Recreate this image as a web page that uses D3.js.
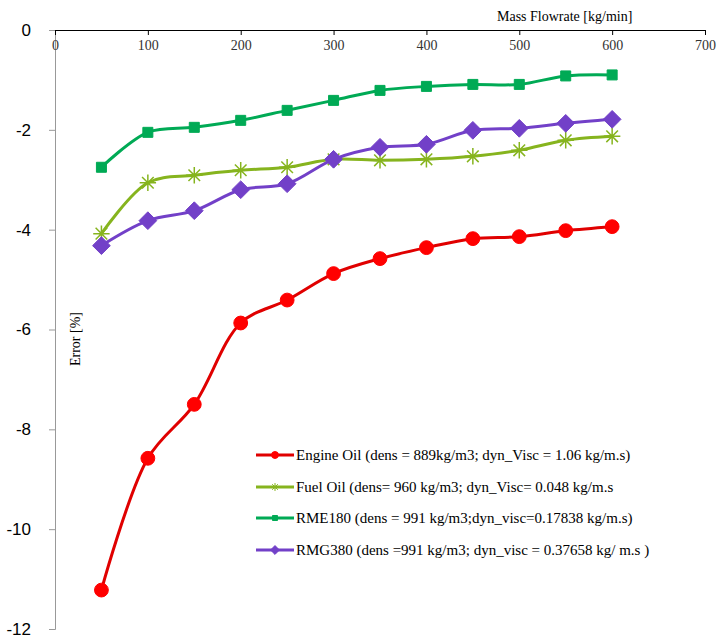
<!DOCTYPE html>
<html>
<head>
<meta charset="utf-8">
<script src="https://cdn.jsdelivr.net/npm/d3@7"></script>
<style>
  body { margin: 0; background: #fff; }
  svg text { font-family: "Liberation Serif", "Times New Roman", serif; }
  svg .y-axis text { font-family: "Liberation Sans", Arial, sans-serif; }
</style>
</head>
<body>
<svg width="718" height="639"></svg>
<script>
const flowrates = [50, 100, 150, 200, 250, 300, 350, 400, 450, 500, 550, 600];
const engineOil = [-11.22, -8.58, -7.5, -5.87, -5.41, -4.88, -4.58, -4.36, -4.18, -4.14, -4.02, -3.94];
const fuelOil = [-4.08, -3.06, -2.91, -2.81, -2.75, -2.59, -2.61, -2.59, -2.53, -2.41, -2.21, -2.13];
const rme180 = [-2.75, -2.05, -1.95, -1.81, -1.61, -1.41, -1.21, -1.13, -1.09, -1.09, -0.92, -0.9];
const rmg380 = [-4.32, -3.82, -3.62, -3.2, -3.08, -2.59, -2.35, -2.29, -2.01, -1.97, -1.87, -1.79];
const seriesNames = [
    'Engine Oil (dens = 889kg/m3; dyn_Visc = 1.06 kg/m.s)',
    'Fuel Oil (dens= 960 kg/m3; dyn_Visc= 0.048 kg/m.s',
    'RME180 (dens = 991 kg/m3;dyn_visc=0.17838 kg/m.s)',
    'RMG380 (dens =991 kg/m3; dyn_visc = 0.37658 kg/ m.s )'
];
const xTicks = [0, 100, 200, 300, 400, 500, 600, 700];
const yTicks = [0, -2, -4, -6, -8, -10, -12];

const svg = d3.select('svg');

const xScale = d3.scaleLinear().domain([0, 700]).range([55, 705]);
const yScale = d3.scaleLinear().domain([-12, 0]).range([629, 30]);

const series = [
    { name: seriesNames[0], values: engineOil, color: '#ff0000', stroke: '#e00000', marker: 'circle' },
    { name: seriesNames[1], values: fuelOil, color: '#86b41e', stroke: '#86b41e', marker: 'star' },
    { name: seriesNames[2], values: rme180, color: '#00aa55', stroke: '#00aa55', marker: 'square' },
    { name: seriesNames[3], values: rmg380, color: '#7240c8', stroke: '#7240c8', marker: 'diamond' }
];

// y axis (left, grey)
const yAxis = svg.append('g')
    .attr('class', 'y-axis')
    .attr('transform', `translate(${xScale(0)},0)`)
    .call(d3.axisLeft(yScale).tickValues(yTicks).tickSize(6).tickFormat(d3.format('d')));
yAxis.select('.domain').attr('stroke', '#999');
yAxis.selectAll('.tick line').attr('stroke', '#999');
yAxis.selectAll('.tick text')
    .attr('x', -24)
    .attr('fill', '#000')
    .style('font-size', '17px')
    .text(d => d === 0 ? '0' : '-' + Math.abs(d));

// x axis along y = 0 at top, ticks pointing down
const xAxis = svg.append('g')
    .attr('transform', `translate(0,${yScale(0)})`)
    .call(d3.axisBottom(xScale).tickValues(xTicks).tickSizeOuter(0).tickSize(5));
xAxis.select('.domain').attr('stroke', '#000');
xAxis.selectAll('.tick line').attr('stroke', '#000');
xAxis.selectAll('.tick text')
    .attr('y', 10)
    .attr('fill', '#333')
    .style('font-size', '14px');

svg.append('text')
    .attr('x', 497)
    .attr('y', 21)
    .style('font-size', '14px')
    .text('Mass Flowrate [kg/min]');

svg.append('text')
    .attr('transform', `translate(80,339) rotate(-90)`)
    .style('text-anchor', 'middle')
    .style('font-size', '14px')
    .text('Error [%]');

const symbolFor = (m, size) => {
    if (m === 'circle') return d3.symbol().type(d3.symbolCircle).size(size)();
    if (m === 'square') return d3.symbol().type(d3.symbolSquare).size(size)();
    if (m === 'diamond') return d3.symbol().type(d3.symbolDiamond2).size(size)();
    return d3.symbol().type(d3.symbolTimes).size(size)() + d3.symbol().type(d3.symbolPlus).size(size)();
};
const markerSize = { circle: 150, square: 100, diamond: 200, star: 90 };

const line = d3.line()
    .x((d, i) => xScale(flowrates[i]))
    .y(d => yScale(d))
    .curve(d3.curveCatmullRom.alpha(0.5));

series.forEach(s => {
    svg.append('path')
        .datum(s.values)
        .attr('fill', 'none')
        .attr('stroke', s.stroke)
        .attr('stroke-width', 3)
        .attr('d', line);

    svg.selectAll(null)
        .data(s.values)
        .enter()
        .append('path')
        .attr('transform', (d, i) => `translate(${xScale(flowrates[i])},${yScale(d)})`)
        .attr('d', symbolFor(s.marker, markerSize[s.marker]))
        .attr('fill', s.marker === 'star' ? 'none' : s.color)
        .attr('stroke', s.color)
        .attr('stroke-width', s.marker === 'star' ? 1.5 : 1);
});

// legend
const legend = svg.append('g');
const legendRows = [455, 487, 518, 550];
series.forEach((s, i) => {
    const g = legend.append('g').attr('transform', `translate(256,${legendRows[i]})`);
    g.append('line')
        .attr('x1', 0).attr('x2', 38)
        .attr('stroke', s.stroke)
        .attr('stroke-width', 3);
    g.append('path')
        .attr('transform', 'translate(19,0)')
        .attr('d', symbolFor(s.marker, markerSize[s.marker] * 0.25))
        .attr('fill', s.marker === 'star' ? 'none' : s.color)
        .attr('stroke', s.color);
    g.append('text')
        .attr('x', 40)
        .attr('y', 5)
        .style('font-size', '15px')
        .text(s.name);
});
</script>
</body>
</html>
